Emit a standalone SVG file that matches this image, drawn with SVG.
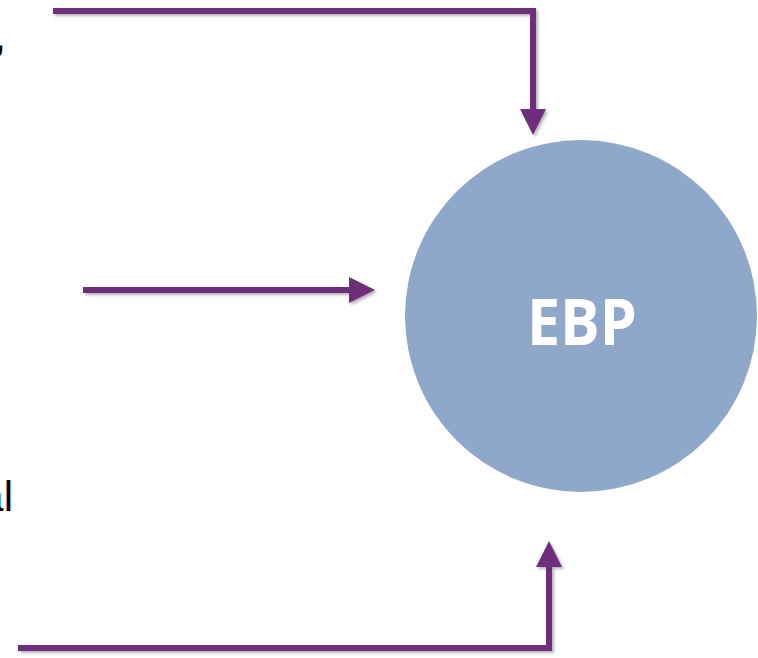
<svg xmlns="http://www.w3.org/2000/svg" width="758" height="658" viewBox="0 0 758 658">
  <defs>
    <filter id="shadow" x="-10%" y="-10%" width="130%" height="130%">
      <feDropShadow dx="2" dy="2" stdDeviation="1.5" flood-color="#000" flood-opacity="0.3"/>
    </filter>
    <marker id="head" markerUnits="userSpaceOnUse" markerWidth="26" markerHeight="26" viewBox="0 0 24 24" refX="0" refY="12" orient="auto">
      <path d="M0,0 L24,12 L0,24 Z" fill="#6E2E7C"/>
    </marker>
  </defs>
  <style>
    .conn { fill: none; stroke: #6E2E7C; stroke-width: 6; stroke-linejoin: miter; stroke-linecap: butt; }
    .side { font-family: "Liberation Sans", Arial, sans-serif; font-size: 42px; fill: #000; }
    .label { font-family: "Open Sans", "Liberation Sans", sans-serif; font-weight: bold; font-size: 64px; fill: #fff; }
  </style>

  <rect width="758" height="658" fill="#fff"/>

  <!-- fragments of side labels cut by the left edge -->
  <text class="side" x="6" y="50" text-anchor="end">,</text>
  <text class="side" x="13" y="511" text-anchor="end">al</text>

  <g id="connectors" filter="url(#shadow)">
    <path class="conn" d="M53,11 H533 V109" marker-end="url(#head)"/>
    <path class="conn" d="M83,290 H349" marker-end="url(#head)"/>
    <path class="conn" d="M18,648 H549 V567" marker-end="url(#head)"/>
  </g>

  <g id="ebp">
    <circle cx="581" cy="316" r="176" fill="#8FA8C9"/>
    <text class="label" x="582" y="345" text-anchor="middle" textLength="110" lengthAdjust="spacingAndGlyphs">EBP</text>
  </g>
</svg>
